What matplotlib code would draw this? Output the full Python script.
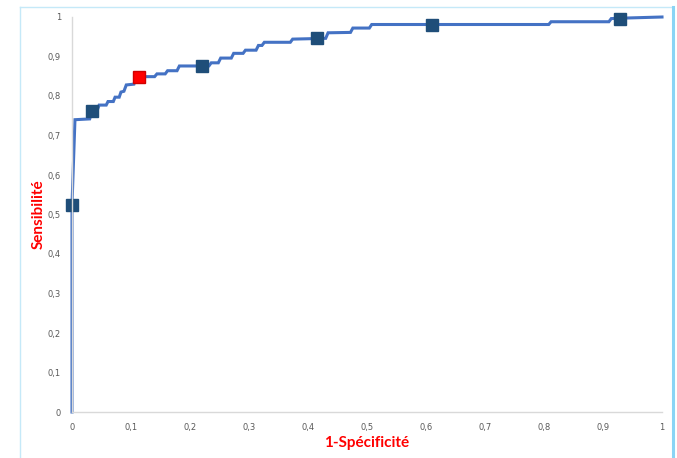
import matplotlib.pyplot as plt
from matplotlib.lines import Line2D

# ROC curve (1-specificity, sensitivity)
fpr = [0.0, 0.0, 0.005, 0.030, 0.034, 0.043, 0.046, 0.058, 0.061, 0.070, 0.073,
       0.080, 0.083, 0.088, 0.092, 0.105, 0.109, 0.140, 0.144, 0.158, 0.162,
       0.178, 0.182, 0.232, 0.236, 0.248, 0.252, 0.270, 0.274, 0.290, 0.294,
       0.312, 0.316, 0.322, 0.326, 0.370, 0.374, 0.430, 0.434, 0.472, 0.476,
       0.504, 0.508, 0.808, 0.812, 0.910, 0.914, 0.930, 1.0]
tpr = [0.0, 0.525, 0.740, 0.742, 0.763, 0.765, 0.777, 0.777, 0.786, 0.786, 0.797,
       0.797, 0.810, 0.812, 0.828, 0.830, 0.849, 0.849, 0.856, 0.856, 0.864,
       0.864, 0.876, 0.876, 0.884, 0.884, 0.896, 0.896, 0.908, 0.908, 0.916,
       0.916, 0.928, 0.928, 0.936, 0.936, 0.944, 0.946, 0.960, 0.961, 0.972,
       0.972, 0.981, 0.981, 0.988, 0.988, 0.996, 0.997, 1.0]

# highlighted thresholds (dark squares) and the optimal cut-off (red square)
pts_x = [0.0, 0.034, 0.221, 0.416, 0.611, 0.929]
pts_y = [0.525, 0.763, 0.876, 0.946, 0.981, 0.995]
best_x = [0.114]
best_y = [0.849]

ticks = [0, 0.1, 0.2, 0.3, 0.4, 0.5, 0.6, 0.7, 0.8, 0.9, 1]
tick_labels = ["0", "0,1", "0,2", "0,3", "0,4", "0,5", "0,6", "0,7", "0,8", "0,9", "1"]

fig = plt.figure(figsize=(6.77, 4.58), dpi=100)
ax = fig.add_axes([72/677, 1-412/458, 590/677, 395/458])

ax.plot(fpr, tpr, color="#4472C4", lw=2.2, solid_joinstyle="miter", clip_on=False)
ax.plot(pts_x, pts_y, ls="none", marker="s", ms=9, color="#1F4E79",
        markeredgecolor="#1F4E79", clip_on=False)
ax.plot(best_x, best_y, ls="none", marker="s", ms=9, color="#FF0000",
        markeredgecolor="#D00000", clip_on=False)

ax.set_xlim(0, 1)
ax.set_ylim(0, 1)
ax.set_xticks(ticks)
ax.set_xticklabels(tick_labels)
ax.set_yticks(ticks)
ax.set_yticklabels(tick_labels)
ax.tick_params(length=0, labelsize=6, labelcolor="#595959")
ax.tick_params(axis="x", pad=8)
ax.tick_params(axis="y", pad=8)
for s in ["top", "right"]:
    ax.spines[s].set_visible(False)
for s in ["left", "bottom"]:
    ax.spines[s].set_color("#D9D9D9")
    ax.spines[s].set_linewidth(1)

ax.set_xlabel("1-Spécificité", color="red", fontsize=11, fontweight="bold",
              family=["Lato", "DejaVu Sans"], labelpad=3)
ax.set_ylabel("Sensibilité", color="red", fontsize=11, fontweight="bold",
              family=["Lato", "DejaVu Sans"])
ax.yaxis.set_label_coords(-26/590, 0.5)

# light blue frame around the chart
fig.add_artist(Line2D([20/677, 20/677], [0, 1-7/458], transform=fig.transFigure,
                      color="#C5E9F8", lw=1))
fig.add_artist(Line2D([20/677, 673/677], [1-7/458, 1-7/458], transform=fig.transFigure,
                      color="#C5E9F8", lw=1))
fig.add_artist(Line2D([673/677, 673/677], [0, 1-7/458], transform=fig.transFigure,
                      color="#8AD4F5", lw=2.2))

fig.savefig("out.png", dpi=100)
